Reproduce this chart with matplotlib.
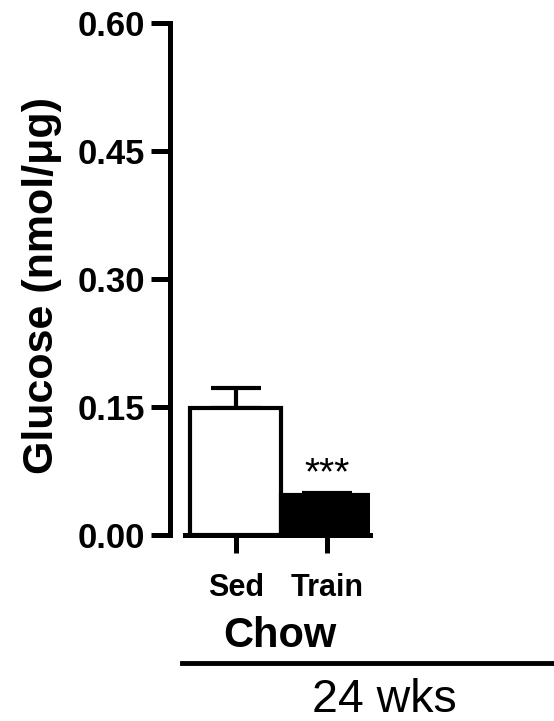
import matplotlib
matplotlib.use("Agg")
import matplotlib.pyplot as plt
from matplotlib.lines import Line2D

categories = ["Sed", "Train"]
means = [0.149, 0.047]
errors = [0.023, 0.002]
colors = ["white", "black"]
yticks = [0.00, 0.15, 0.30, 0.45, 0.60]
ytick_labels = ["0.00", "0.15", "0.30", "0.45", "0.60"]

plt.rcParams['font.family'] = ['Liberation Sans', 'DejaVu Sans']

W, H = 554, 721
fig = plt.figure(figsize=(W/100, H/100), dpi=100)
ax = fig.add_axes([170/W, 1-535/H, 200/W, 512/H])

x = list(range(len(categories)))
ax.bar(x, means, width=1.0, color=colors, edgecolor="black", linewidth=3.0, zorder=2)
ax.errorbar(x, means, yerr=[[0]*len(errors), errors], fmt="none", ecolor="black",
            elinewidth=3.0, capsize=18, capthick=3.0, zorder=1)

ax.set_xlim(-0.725, 1.473)
ax.set_ylim(0, 0.6)
ax.set_yticks(yticks)
ax.set_yticklabels(ytick_labels, fontsize=25, fontweight="bold")
ax.set_xticks(x)
ax.set_xticklabels(categories, fontsize=22, fontweight="bold")
for s in ["top", "right"]:
    ax.spines[s].set_visible(False)
ax.spines["left"].set_linewidth(3.6)
ax.spines["bottom"].set_linewidth(3.6)
ax.spines["bottom"].set_bounds(-0.56, 1.473)
ax.tick_params(axis="y", length=14, width=3.6, pad=4)
ax.tick_params(axis="x", length=13, width=3.6, pad=14)

ax.text(1, means[1] + 0.012, "***", ha="center", va="baseline", fontsize=28)

fig.text(42/W, 1-285/H, "Glucose (nmol/μg)", rotation=90, ha="center", va="center",
         fontsize=31, fontweight="bold")
fig.text(280/W, 1-636/H, "Chow", ha="center", va="center", fontsize=30, fontweight="bold")
fig.add_artist(Line2D([182/W, 1.0], [1-663/H, 1-663/H], color="black", linewidth=3.5,
                      transform=fig.transFigure))
fig.text(384/W, 1-700/H, "24 wks", ha="center", va="center", fontsize=33.5)

fig.savefig("out.png", dpi=100)
